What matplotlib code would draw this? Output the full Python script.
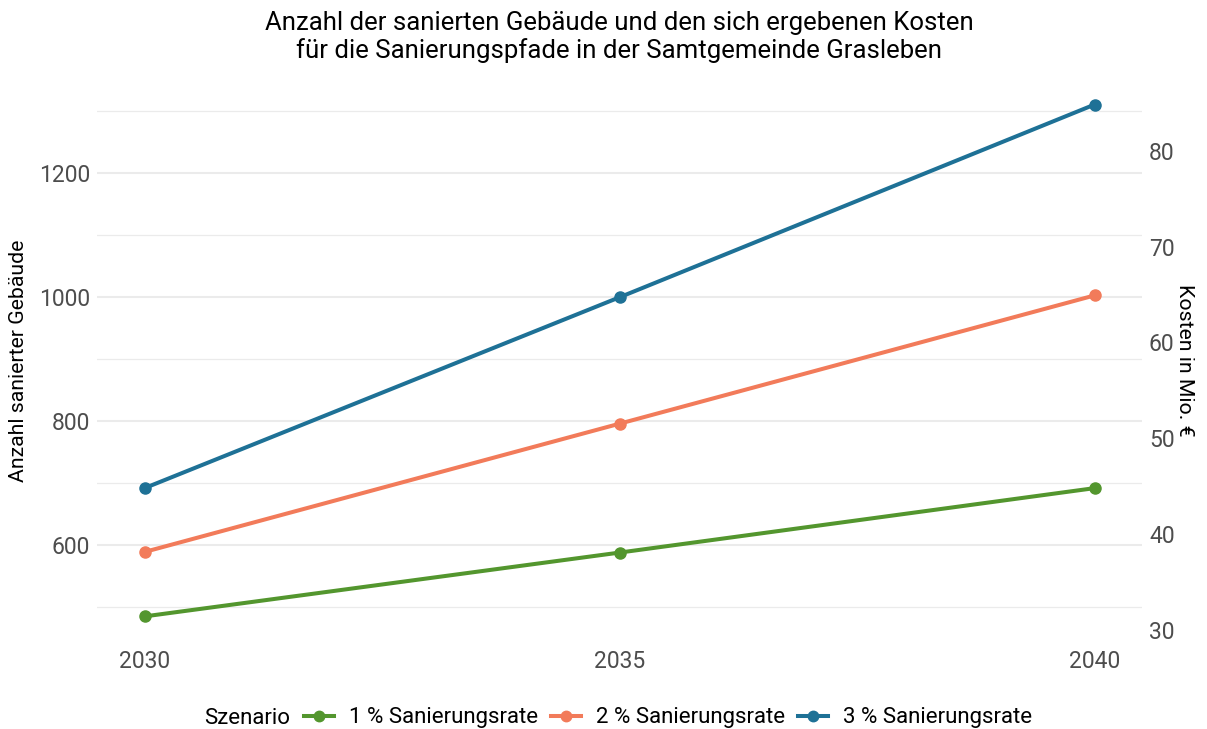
import matplotlib
matplotlib.use("Agg")
import matplotlib.pyplot as plt
from matplotlib.lines import Line2D
from matplotlib.ticker import MultipleLocator

plt.rcParams['font.family'] = ['Roboto', 'DejaVu Sans']

years = [2030, 2035, 2040]
scenarios = ["1 % Sanierungsrate", "2 % Sanierungsrate", "3 % Sanierungsrate"]
counts_1 = [485, 588, 692]
counts_2 = [589, 796, 1003]
counts_3 = [692, 1000, 1311]
colors = ["#53962e", "#f27b5a", "#1e7196"]
cost_per_building = 0.0647  # Mio. € per Gebäude

W, H = 1207, 729
fig = plt.figure(figsize=(W / 100, H / 100), dpi=100)
left, right, top, bottom = 97, 1142, 79, 642
ax = fig.add_axes([left / W, 1 - bottom / H, (right - left) / W, (bottom - top) / H])

for vals, col, lab in zip([counts_1, counts_2, counts_3], colors, scenarios):
    ax.plot(years, vals, color=col, lw=2.9, marker='o', ms=8, label=lab, zorder=3)

allv = counts_1 + counts_2 + counts_3
lo, hi = min(allv), max(allv)
pad = 0.05 * (hi - lo)
ax.set_ylim(lo - pad, hi + pad)
ax.set_xlim(2030 - 0.5, 2040 + 0.5)
ax.set_xticks(years)
ax.set_yticks([600, 800, 1000, 1200])
ax.set_yticks([500, 700, 900, 1100, 1300], minor=True)

ax.grid(axis='y', which='major', color='#ebebeb', lw=1.5)
ax.grid(axis='y', which='minor', color='#ebebeb', lw=0.9)
ax.grid(axis='x', visible=False)
for s in ax.spines.values():
    s.set_visible(False)
ax.tick_params(axis='both', which='both', length=0, labelsize=16.5, labelcolor='#4d4d4d')
ax.tick_params(axis='x', pad=6)
ax.tick_params(axis='y', pad=5)
ax.set_ylabel("Anzahl sanierter Gebäude", fontsize=15.3, color='black', labelpad=8)

sec = ax.secondary_yaxis('right', functions=(lambda x: x * cost_per_building,
                                              lambda y: y / cost_per_building))
sec.set_yticks([30, 40, 50, 60, 70, 80])
for s in sec.spines.values():
    s.set_visible(False)
sec.tick_params(length=0, labelsize=16.5, labelcolor='#4d4d4d', pad=5)
sec.set_ylabel("Kosten in Mio. €", fontsize=15.3, rotation=270, labelpad=14)

fig.text(((left + right) / 2) / W, 1 - 37 / H,
         "Anzahl der sanierten Gebäude und den sich ergebenen Kosten\n"
         "für die Sanierungspfade in der Samtgemeinde Grasleben",
         ha='center', va='center', fontsize=18.5, linespacing=1.15)

handles = [Line2D([0], [0], color=c, lw=2.9, marker='o', ms=7.5) for c in colors]
fig.text(204 / W, 1 - 718 / H, "Szenario", ha='left', va='center', fontsize=16)
fig.legend(handles, scenarios, loc='center', bbox_to_anchor=(668 / W, 1 - 718 / H),
           ncol=3, frameon=False, fontsize=16, handlelength=1.35, handletextpad=0.65,
           columnspacing=0.6, borderpad=0, borderaxespad=0)

fig.savefig("out.png", dpi=100)
